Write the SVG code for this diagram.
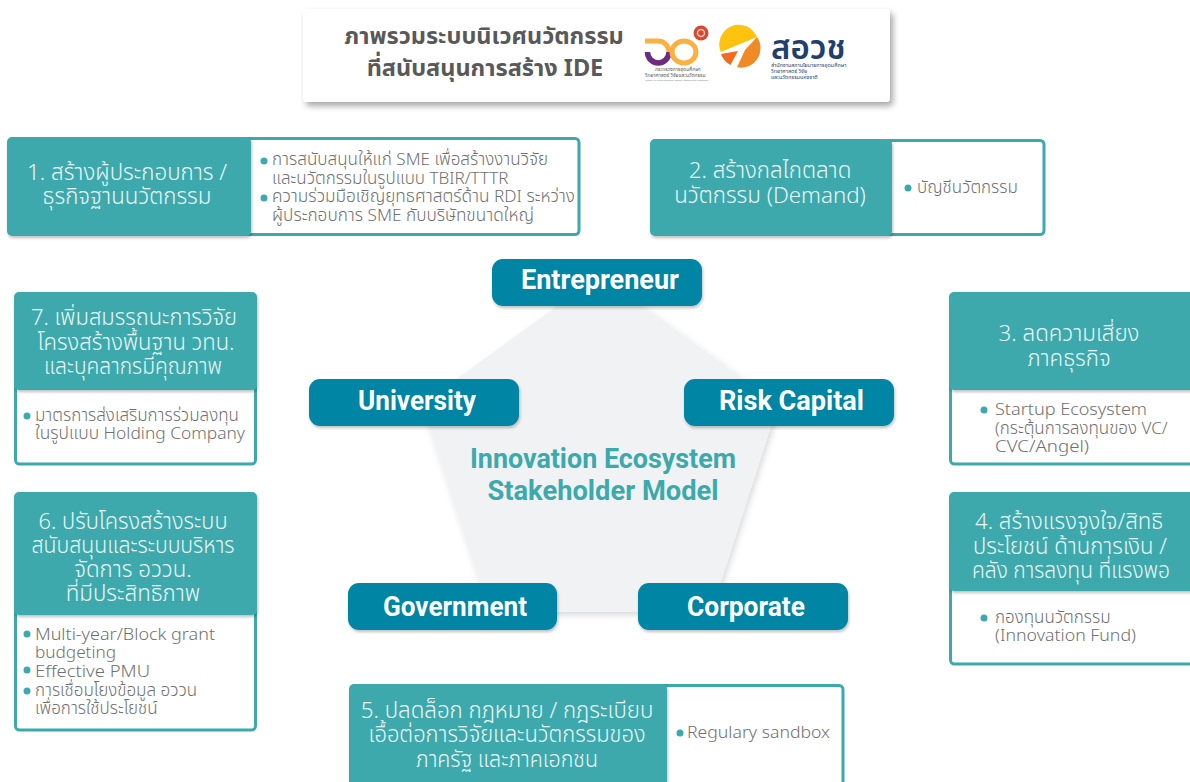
<svg xmlns="http://www.w3.org/2000/svg" width="1190" height="782" viewBox="0 0 1190 782">
<style>
text{font-family:"Noto Sans","Noto Sans Thai","DejaVu Sans",sans-serif}
.head{fill:#3CA9AD}
.frame{fill:#fff;stroke:#3CA9AD;stroke-width:3}
.h{fill:#E9F6F5;font-size:22.300px;font-weight:300;text-anchor:middle}
.b{fill:#707070;font-size:17px;font-weight:300}
.dot{fill:#3CA9AD}
.pill{fill:#0085A5}
.p{fill:#fff;font-family:Roboto,sans-serif;font-size:27px;font-weight:700;text-anchor:middle}
.c{fill:#3CA9AD;font-family:Roboto,sans-serif;font-size:27px;font-weight:700;text-anchor:middle}
.t{fill:#595959;font-size:23.500px;font-weight:700;text-anchor:middle}
.tiny{font-size:5px;fill:#555}
.navy{font-size:5.400px;fill:#1F3F6E}
</style>
<defs>
<filter id="sh" x="-10%" y="-20%" width="120%" height="140%"><feDropShadow dx="1" dy="2" stdDeviation="1.500" flood-color="#000" flood-opacity=".25"/></filter>
<filter id="tsh" x="-5%" y="-20%" width="110%" height="150%"><feDropShadow dx="3" dy="4" stdDeviation="3" flood-color="#000" flood-opacity=".35"/></filter>
<filter id="psh" x="-10%" y="-10%" width="120%" height="120%"><feDropShadow dx="2" dy="3" stdDeviation="3" flood-color="#000" flood-opacity=".15"/></filter>
</defs>

<g id="connectors"></g>

<g id="title">
<rect x="303" y="9" width="587" height="93" rx="4" fill="#fff" filter="url(#tsh)"/>
<text class="t" x="484" y="44">ภาพรวมระบบนิเวศนวัตกรรม</text>
<text class="t" x="485" y="76">ที่สนับสนุนการสร้าง IDE</text>
</g>

<g id="logo-60">
<circle cx="701" cy="33" r="7.500" fill="#D8482F"/>
<circle cx="701" cy="33" r="3.500" fill="none" stroke="#F6C9C0" stroke-width="1.500"/>
<path d="M647.500 52A10.750 11 0 0 0 669 52" fill="none" stroke="#6B2C80" stroke-width="5.500"/>
<path d="M645 41H658A11 11 0 0 1 669 52" fill="none" stroke="#FBB040" stroke-width="5"/>
<ellipse cx="684" cy="52" rx="12" ry="11" fill="none" stroke="#FBB040" stroke-width="5"/>
<text class="tiny" x="655" y="71">กระทรวงการอุดมศึกษา</text>
<text class="tiny" x="645" y="77">วิทยาศาสตร์ วิจัยและนวัตกรรม</text>
<text x="645" y="81" font-size="2.300" fill="#777" textLength="63" lengthAdjust="spacingAndGlyphs">Ministry of Higher Education, Science, Research and Innovation</text>
</g>

<g id="logo-nxpo">
<path d="M757 37A19.500 19.500 0 0 0 720.700 52Z" fill="#FFC20E"/>
<path d="M757 37A19.500 19.500 0 0 1 737 67.300L745 50Z" fill="#F08A24"/>
<path d="M721 54L738 51L730.500 65A19.500 19.500 0 0 1 721 54Z" fill="#F26B21"/>
<text x="771" y="59" font-size="33" font-weight="600" fill="#1F3F6E">สอวช</text>
<text class="navy" x="771" y="67">สำนักงานสภานโยบายการอุดมศึกษา</text>
<text class="navy" x="771" y="73">วิทยาศาสตร์ วิจัย</text>
<text class="navy" x="771" y="79">และนวัตกรรมแห่งชาติ</text>
</g>

<polygon id="pentagon" points="600,275 778,404 711,612 489,612 422,404" fill="#F1F2F4" filter="url(#psh)"/>
<text class="c" x="603" y="468" textLength="266" lengthAdjust="spacingAndGlyphs">Innovation Ecosystem</text>
<text class="c" x="603" y="500" textLength="231" lengthAdjust="spacingAndGlyphs">Stakeholder Model</text>

<g id="entrepreneur"><rect class="pill" x="492" y="259" width="210" height="47" rx="11" filter="url(#sh)"/><text class="p" x="600" y="289" textLength="158" lengthAdjust="spacingAndGlyphs">Entrepreneur</text></g>
<g id="university"><rect class="pill" x="309" y="379" width="210" height="47" rx="11" filter="url(#sh)"/><text class="p" x="417" y="410" textLength="118" lengthAdjust="spacingAndGlyphs">University</text></g>
<g id="risk-capital"><rect class="pill" x="684" y="379" width="210" height="47" rx="11" filter="url(#sh)"/><text class="p" x="791.500" y="410" textLength="145" lengthAdjust="spacingAndGlyphs">Risk Capital</text></g>
<g id="government"><rect class="pill" x="348" y="583" width="209" height="47" rx="11" filter="url(#sh)"/><text class="p" x="455" y="616" textLength="144" lengthAdjust="spacingAndGlyphs">Government</text></g>
<g id="corporate"><rect class="pill" x="638" y="583" width="210" height="47" rx="11" filter="url(#sh)"/><text class="p" x="746" y="616" textLength="118" lengthAdjust="spacingAndGlyphs">Corporate</text></g>

<g id="box-1">
<rect class="frame" x="200" y="138.500" width="379" height="96" rx="4"/>
<rect class="head" x="7" y="137" width="244" height="99" rx="5" filter="url(#sh)"/>
<text class="h" x="127" y="180" textLength="200" lengthAdjust="spacingAndGlyphs">1. สร้างผู้ประกอบการ /</text>
<text class="h" x="127" y="204">ธุรกิจฐานนวัตกรรม</text>
<circle class="dot" cx="264" cy="161" r="3.500"/>
<text class="b" x="272" y="165" textLength="276" lengthAdjust="spacingAndGlyphs">การสนับสนุนให้แก่ SME เพื่อสร้างงานวิจัย</text>
<text class="b" x="272" y="184">และนวัตกรรมในรูปแบบ TBIR/TTTR</text>
<circle class="dot" cx="264" cy="198" r="3.500"/>
<text class="b" x="272" y="202" textLength="303" lengthAdjust="spacingAndGlyphs">ความร่วมมือเชิญยุทธศาสตร์ด้าน RDI ระหว่าง</text>
<text class="b" x="272" y="221" textLength="262" lengthAdjust="spacingAndGlyphs">ผู้ประกอบการ SME กับบริษัทขนาดใหญ่</text>
</g>

<g id="box-2">
<rect class="frame" x="860" y="140.500" width="184" height="94" rx="4"/>
<rect class="head" x="650" y="139" width="242" height="97" rx="5" filter="url(#sh)"/>
<text class="h" x="770" y="178">2. สร้างกลไกตลาด</text>
<text class="h" x="770" y="203">นวัตกรรม (Demand)</text>
<circle class="dot" cx="908" cy="188" r="3.500"/>
<text class="b" x="917" y="193">บัญชีนวัตกรรม</text>
</g>

<g id="box-3">
<rect class="frame" x="950.500" y="360" width="245" height="104" rx="4"/>
<rect class="head" x="949" y="292" width="246" height="98" rx="5" filter="url(#sh)"/>
<text class="h" x="1069" y="341">3. ลดความเสี่ยง</text>
<text class="h" x="1069" y="366">ภาคธุรกิจ</text>
<circle class="dot" cx="984" cy="410" r="3.500"/>
<text class="b" x="995" y="415" textLength="152" lengthAdjust="spacingAndGlyphs">Startup Ecosystem</text>
<text class="b" x="995" y="434">(กระตุ้นการลงทุนของ VC/</text>
<text class="b" x="995" y="452" textLength="94" lengthAdjust="spacingAndGlyphs">CVC/Angel)</text>
</g>

<g id="box-4">
<rect class="frame" x="950.500" y="560" width="245" height="104" rx="4"/>
<rect class="head" x="949" y="492" width="246" height="99" rx="5" filter="url(#sh)"/>
<text class="h" x="1069" y="529" textLength="188" lengthAdjust="spacingAndGlyphs">4. สร้างแรงจูงใจ/สิทธิ</text>
<text class="h" x="1070" y="554" textLength="194" lengthAdjust="spacingAndGlyphs">ประโยชน์ ด้านการเงิน /</text>
<text class="h" x="1071" y="578" textLength="198" lengthAdjust="spacingAndGlyphs">คลัง การลงทุน ที่แรงพอ</text>
<circle class="dot" cx="984" cy="618" r="3.500"/>
<text class="b" x="995" y="623">กองทุนนวัตกรรม</text>
<text class="b" x="995" y="641" textLength="141" lengthAdjust="spacingAndGlyphs">(Innovation Fund)</text>
</g>

<g id="box-5">
<rect class="frame" x="600" y="685.500" width="243" height="100" rx="4"/>
<rect class="head" x="349" y="684" width="318" height="104" rx="5" filter="url(#sh)"/>
<text class="h" x="507" y="718">5. ปลดล็อก กฎหมาย / กฎระเบียบ</text>
<text class="h" x="507" y="742" textLength="277" lengthAdjust="spacingAndGlyphs">เอื้อต่อการวิจัยและนวัตกรรมของ</text>
<text class="h" x="507" y="767" textLength="182" lengthAdjust="spacingAndGlyphs">ภาครัฐ และภาคเอกชน</text>
<circle class="dot" cx="680" cy="733" r="3.500"/>
<text class="b" x="687" y="738" textLength="143" lengthAdjust="spacingAndGlyphs">Regulary sandbox</text>
</g>

<g id="box-6">
<rect class="frame" x="15.500" y="580" width="240" height="150" rx="4"/>
<rect class="head" x="14" y="492" width="243" height="123" rx="5" filter="url(#sh)"/>
<text class="h" x="133" y="529" textLength="189" lengthAdjust="spacingAndGlyphs">6. ปรับโครงสร้างระบบ</text>
<text class="h" x="133" y="553" textLength="203" lengthAdjust="spacingAndGlyphs">สนับสนุนและระบบบริหาร</text>
<text class="h" x="133" y="577">จัดการ อววน.</text>
<text class="h" x="133" y="601">ที่มีประสิทธิภาพ</text>
<circle class="dot" cx="27" cy="634" r="3.500"/>
<text class="b" x="35" y="640" textLength="180" lengthAdjust="spacingAndGlyphs">Multi-year/Block grant</text>
<text class="b" x="35" y="658" textLength="81" lengthAdjust="spacingAndGlyphs">budgeting</text>
<circle class="dot" cx="27" cy="670" r="3.500"/>
<text class="b" x="35" y="677" textLength="115" lengthAdjust="spacingAndGlyphs">Effective PMU</text>
<circle class="dot" cx="27" cy="691" r="3.500"/>
<text class="b" x="35" y="696">การเชื่อมโยงข้อมูล อววน</text>
<text class="b" x="35" y="714">เพื่อการใช้ประโยชน์</text>
</g>

<g id="box-7">
<rect class="frame" x="15.500" y="360" width="240" height="104" rx="4"/>
<rect class="head" x="14" y="292" width="243" height="98" rx="5" filter="url(#sh)"/>
<text class="h" x="134" y="325" textLength="206" lengthAdjust="spacingAndGlyphs">7. เพิ่มสมรรถนะการวิจัย</text>
<text class="h" x="136" y="350" textLength="197" lengthAdjust="spacingAndGlyphs">โครงสร้างพื้นฐาน วทน.</text>
<text class="h" x="133" y="374" textLength="178" lengthAdjust="spacingAndGlyphs">และบุคลากรมีคุณภาพ</text>
<circle class="dot" cx="27" cy="416" r="3.500"/>
<text class="b" x="35" y="421">มาตรการส่งเสริมการร่วมลงทุน</text>
<text class="b" x="35" y="439" textLength="210" lengthAdjust="spacingAndGlyphs">ในรูปแบบ Holding Company</text>
</g>
</svg>
